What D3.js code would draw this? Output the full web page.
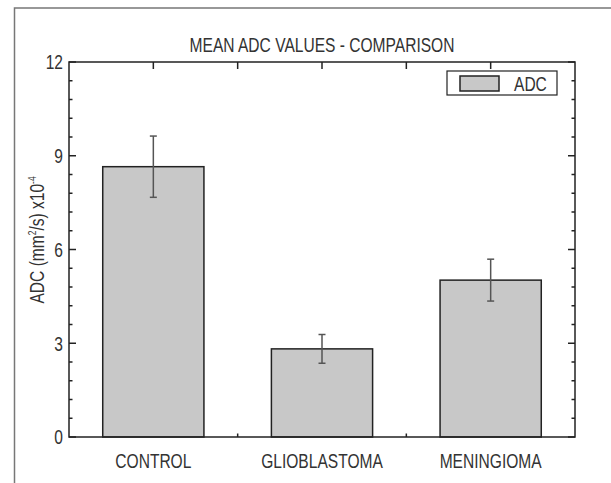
<!DOCTYPE html>
<html>
<head>
<meta charset="utf-8">
<script src="https://cdn.jsdelivr.net/npm/d3@7"></script>
<style>
  html, body { margin: 0; padding: 0; background: #fff; }
  svg text { font-family: "Liberation Sans", Arial, sans-serif; fill: #333; }
</style>
</head>
<body>
<svg id="chart" width="611" height="483"></svg>
<script>
// Mean ADC per group with standard deviation
const categories = ["CONTROL", "GLIOBLASTOMA", "MENINGIOMA"];
const adcMean = [8.65, 2.82, 5.02];
const adcSD = [0.98, 0.46, 0.67];
const yTicks = [0, 3, 6, 9, 12];
const seriesName = "ADC";

const svg = d3.select("#chart");
const W = 611, H = 483;
const pLeft = 69, pRight = 575, pTop = 62, pBottom = 437;

const x = d3.scaleLinear().domain([0.5, 3.5]).range([pLeft, pRight]);
const y = d3.scaleLinear().domain([0, 12]).range([pBottom, pTop]);
const barW = x(1.6) - x(1.0);   // bars fill 0.6 of a category slot

const axisColor = "#222";
const fontSize = 20.5;
const squeeze = 0.76;           // condensed lettering

// place text at (px, py), horizontally condensed
function placed(sel, px, py, rot) {
  return sel.attr("transform", (d, i) => {
    const X = typeof px === "function" ? px(d, i) : px;
    const Y = typeof py === "function" ? py(d, i) : py;
    return `translate(${X},${Y})${rot ? ` rotate(${rot})` : ""} scale(${squeeze},1)`;
  });
}

// figure frame (left and top edges)
svg.append("path")
  .attr("d", `M14.5,${H} L14.5,8 L${W},8`)
  .attr("fill", "none").attr("stroke", "#777").attr("stroke-width", 1.5);

// title
placed(svg.append("text"), (pLeft + pRight) / 2, 52)
  .attr("text-anchor", "middle").attr("font-size", fontSize)
  .text("MEAN ADC VALUES - COMPARISON");

const plot = svg.append("g");

// bars
plot.selectAll("rect.bar").data(adcMean).enter().append("rect")
  .attr("class", "bar")
  .attr("x", (d, i) => x(i + 1) - barW / 2)
  .attr("y", d => y(d))
  .attr("width", barW)
  .attr("height", d => y(0) - y(d))
  .attr("fill", "#c8c8c8")
  .attr("stroke", axisColor).attr("stroke-width", 1.5);

// error bars
const cap = 3.5;
const eb = plot.selectAll("g.err").data(adcMean).enter().append("g").attr("class", "err")
  .attr("stroke", "#555").attr("stroke-width", 1.5);
eb.append("line")
  .attr("x1", (d, i) => x(i + 1)).attr("x2", (d, i) => x(i + 1))
  .attr("y1", (d, i) => y(d + adcSD[i])).attr("y2", (d, i) => y(d - adcSD[i]));
eb.append("line")
  .attr("x1", (d, i) => x(i + 1) - cap).attr("x2", (d, i) => x(i + 1) + cap)
  .attr("y1", (d, i) => y(d + adcSD[i])).attr("y2", (d, i) => y(d + adcSD[i]));
eb.append("line")
  .attr("x1", (d, i) => x(i + 1) - cap).attr("x2", (d, i) => x(i + 1) + cap)
  .attr("y1", (d, i) => y(d - adcSD[i])).attr("y2", (d, i) => y(d - adcSD[i]));

// axes box
const ax = svg.append("g").attr("stroke", axisColor).attr("stroke-width", 1.5).attr("fill", "none");
ax.append("rect").attr("x", pLeft).attr("y", pTop).attr("width", pRight - pLeft).attr("height", pBottom - pTop);

// y ticks (major + minor) on both sides, pointing inward
const majorLen = 7, minorLen = 3.5;
const yMinor = d3.range(0, 12.001, 0.6).filter(v => !yTicks.some(t => Math.abs(t - v) < 1e-6));
const yAll = yTicks.map(v => ({ v, len: majorLen })).concat(yMinor.map(v => ({ v, len: minorLen })));
ax.selectAll("line.yl").data(yAll).enter().append("line")
  .attr("x1", pLeft).attr("x2", d => pLeft + d.len)
  .attr("y1", d => y(d.v)).attr("y2", d => y(d.v));
ax.selectAll("line.yr").data(yAll).enter().append("line")
  .attr("x1", pRight).attr("x2", d => pRight - d.len)
  .attr("y1", d => y(d.v)).attr("y2", d => y(d.v));

// x ticks: top at centers and midpoints, bottom at midpoints
const xTop = [1, 1.5, 2, 2.5, 3];
ax.selectAll("line.xt").data(xTop).enter().append("line")
  .attr("x1", d => x(d)).attr("x2", d => x(d))
  .attr("y1", pTop).attr("y2", pTop + majorLen);
ax.selectAll("line.xb").data([1.5, 2.5]).enter().append("line")
  .attr("x1", d => x(d)).attr("x2", d => x(d))
  .attr("y1", pBottom).attr("y2", pBottom - minorLen);

// y tick labels
placed(svg.selectAll("text.yt").data(yTicks).enter().append("text"), pLeft - 6, d => y(d))
  .attr("dy", "0.36em")
  .attr("text-anchor", "end").attr("font-size", fontSize)
  .text(d => d);

// category labels
placed(svg.selectAll("text.xc").data(categories).enter().append("text"), (d, i) => x(i + 1), 468)
  .attr("text-anchor", "middle").attr("font-size", fontSize)
  .text(d => d);

// y axis title with superscripts
const yl = placed(svg.append("text"), 44, 240, -90)
  .attr("text-anchor", "middle").attr("font-size", fontSize);
yl.append("tspan").text("ADC (mm");
yl.append("tspan").attr("font-size", 11).attr("dy", -8).text("2");
yl.append("tspan").attr("dy", 8).text("/s) x10");
yl.append("tspan").attr("font-size", 11).attr("dy", -8).text("-4");

// legend
const lg = svg.append("g");
lg.append("rect").attr("x", 447).attr("y", 71).attr("width", 110).attr("height", 24)
  .attr("fill", "#fff").attr("stroke", axisColor).attr("stroke-width", 1.2);
lg.append("rect").attr("x", 460).attr("y", 76).attr("width", 39).attr("height", 15)
  .attr("fill", "#c8c8c8").attr("stroke", axisColor).attr("stroke-width", 1.5);
placed(lg.append("text"), 514, 90.5).attr("font-size", fontSize).text(seriesName);
</script>
</body>
</html>
